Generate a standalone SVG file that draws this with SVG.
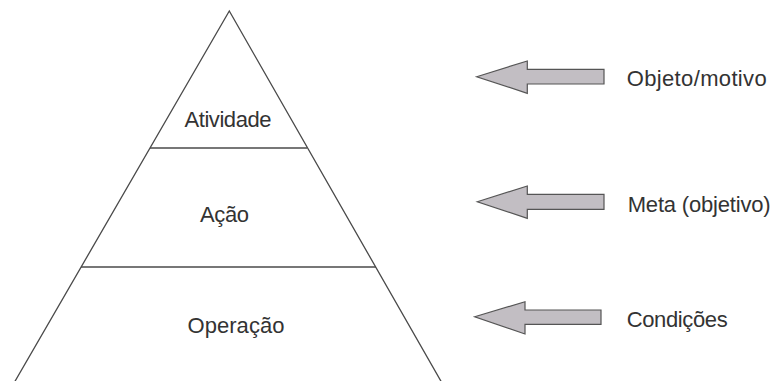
<svg xmlns="http://www.w3.org/2000/svg" width="773" height="381" viewBox="0 0 773 381">
<style>
.edge{fill:none;stroke:#4a4a4a;stroke-width:1.3}
.arrow{fill:#c2bec3;stroke:#555;stroke-width:1.2;stroke-linejoin:miter}
.lbl{font-family:"Liberation Sans",Arial,sans-serif;font-size:22px;fill:#333}
</style>
<rect width="773" height="381" fill="#fff"/>
<g id="pyramid">
<polyline class="edge" points="14,383 229.3,11 442,383"/>
</g>
<g id="connectors">
<line class="edge" x1="150" y1="148" x2="307" y2="148"/>
<line class="edge" x1="81" y1="267" x2="376" y2="267"/>
</g>
<g id="atividade"><text class="lbl" x="228" y="127.3" text-anchor="middle" textLength="87">Atividade</text></g>
<g id="acao"><text class="lbl" x="224.5" y="222" text-anchor="middle" textLength="49">Ação</text></g>
<g id="operacao"><text class="lbl" x="236" y="333" text-anchor="middle" textLength="97">Operação</text></g>
<g id="arrow1"><polygon class="arrow" points="476.7,76.7 527.3,61 527.3,69.3 604,69.3 604,84 527.3,84 527.3,93.3"/></g>
<g id="arrow2"><polygon class="arrow" points="477.3,201.7 527.3,186 527.3,194.3 604,194.3 604,209.3 527.3,209.3 527.3,218.3"/></g>
<g id="arrow3"><polygon class="arrow" points="474.7,316.7 525,301.7 525,310 601,310 601,324.3 525,324.3 525,334"/></g>
<g id="objeto"><text class="lbl" x="626.7" y="86" textLength="140">Objeto/motivo</text></g>
<g id="meta"><text class="lbl" x="627.7" y="211.7" textLength="143">Meta (objetivo)</text></g>
<g id="condicoes"><text class="lbl" x="626.7" y="326.7" textLength="101">Condições</text></g>
</svg>
